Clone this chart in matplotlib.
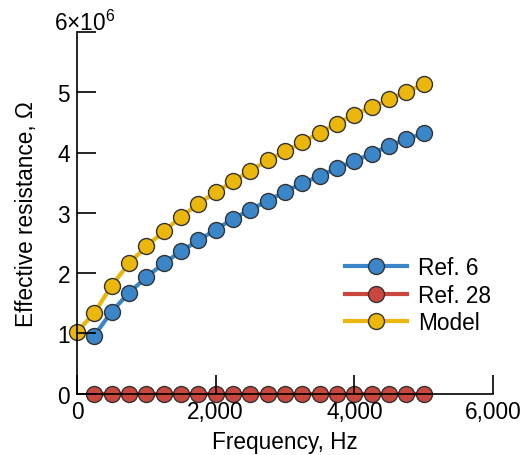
import numpy as np
import matplotlib
matplotlib.use("Agg")
import matplotlib.pyplot as plt
from matplotlib.ticker import FuncFormatter

plt.rcParams['font.family'] = ['Liberation Sans', 'DejaVu Sans']
plt.rcParams['mathtext.default'] = 'regular'

freq_model = [0, 250, 500, 750, 1000, 1250, 1500, 1750, 2000, 2250, 2500,
              2750, 3000, 3250, 3500, 3750, 4000, 4250, 4500, 4750, 5000]
freq_ref = freq_model[1:]

ref6 = [0.96, 1.36, 1.67, 1.93, 2.16, 2.36, 2.54, 2.72, 2.90, 3.05,
        3.20, 3.35, 3.49, 3.61, 3.74, 3.86, 3.98, 4.11, 4.22, 4.32]
ref28 = [0.0] * 20
model = [1.02, 1.34, 1.79, 2.16, 2.44, 2.69, 2.93, 3.15, 3.34, 3.52, 3.70,
         3.87, 4.02, 4.17, 4.33, 4.48, 4.63, 4.75, 4.88, 5.01, 5.13]

ytick_vals = [0, 1, 2, 3, 4, 5, 6]
ytick_labels = ['0', '1', '2', '3', '4', '5', '']
top_label = r'6×10$^{6}$'

fs = 16.3
fig = plt.figure(figsize=(5.21, 4.56), dpi=100)
ax = fig.add_axes([77/521, 1 - 394.5/456, 416/521, 361.5/456])

style = dict(marker='o', markersize=11.5, markeredgecolor='#333333',
             markeredgewidth=1.0, linewidth=3, clip_on=False)
ax.plot(freq_ref, np.array(ref6) * 1e6, color='#3a86c8', label='Ref. 6', **style)
ax.plot(freq_ref, np.array(ref28) * 1e6, color='#c9473d', label='Ref. 28', **style)
ax.plot(freq_model, np.array(model) * 1e6, color='#ebb70c', label='Model', **style)

ax.set_xlim(0, 6000)
ax.set_ylim(0, 6e6)
ax.set_xticks([0, 2000, 4000, 6000])
ax.xaxis.set_major_formatter(FuncFormatter(lambda v, p: f'{int(v):,}'))
ax.set_yticks([v * 1e6 for v in ytick_vals])
ax.set_yticklabels(ytick_labels)
ax.annotate(top_label, xy=(0, 1), xycoords='axes fraction', xytext=(-16.5, 7),
            textcoords='offset points', ha='left', va='center', fontsize=fs)

ax.spines['top'].set_visible(False)
ax.spines['right'].set_visible(False)
for s in ['left', 'bottom']:
    ax.spines[s].set_linewidth(1.2)
    ax.spines[s].set_zorder(5)
ax.set_axisbelow(False)
ax.tick_params(direction='in', length=14, width=1.2, labelsize=fs, pad=5)

ax.set_xlabel('Frequency, Hz', fontsize=fs, labelpad=5)
ax.set_ylabel('Effective resistance, Ω', fontsize=fs)
ax.yaxis.set_label_coords(-0.094, 0.5)

ax.legend(loc='upper left', bbox_to_anchor=(0.644, 0.38), frameon=False,
          fontsize=fs, handlelength=2.75, handletextpad=0.5, labelspacing=0.2,
          borderpad=0, borderaxespad=0)

fig.savefig('out.png', dpi=100)
